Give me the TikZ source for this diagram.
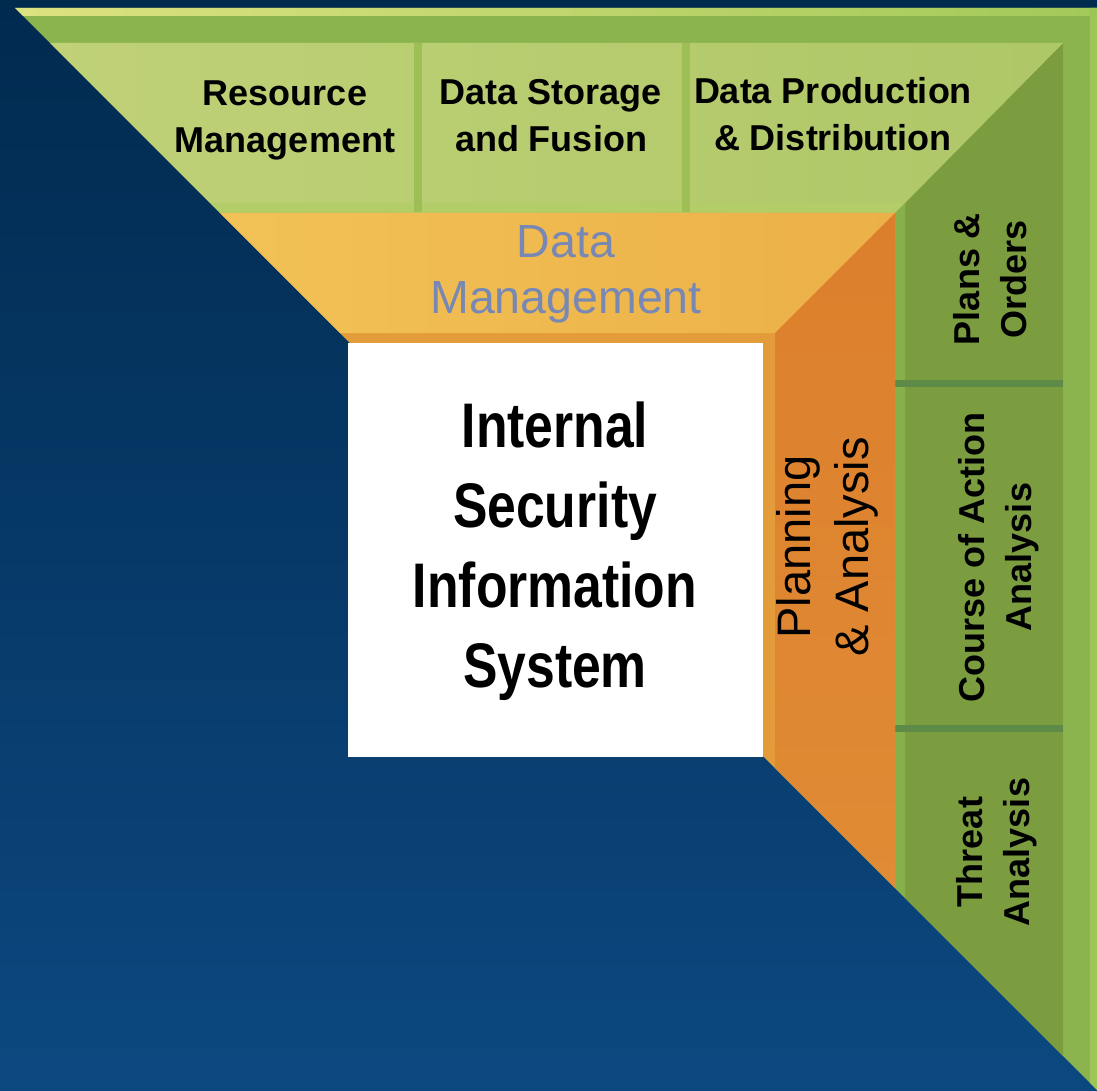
\documentclass[tikz,border=0pt]{standalone}
\usepackage{fontspec}
\setmainfont{Liberation Sans}
\newfontfamily\narrowfont[FakeStretch=0.82]{Liberation Sans}
\definecolor{navyTop}{HTML}{012A4F}
\definecolor{navyBot}{HTML}{0C4880}
\definecolor{frameG}{HTML}{8CB44E}
\definecolor{stripL}{HTML}{DCE280}
\definecolor{stripR}{HTML}{A3C95A}
\definecolor{edgeR}{HTML}{9CC556}
\definecolor{topL}{HTML}{C0D178}
\definecolor{topR}{HTML}{AEC767}
\definecolor{colG}{HTML}{7B9D40}
\definecolor{lipH}{HTML}{B3CD68}
\definecolor{lipV}{HTML}{88B04A}
\definecolor{sepTop}{HTML}{9DBF55}
\definecolor{sepRight}{HTML}{5E8A47}
\definecolor{orTopL}{HTML}{F2C256}
\definecolor{orTopR}{HTML}{ECB048}
\definecolor{orRightT}{HTML}{DC7F2C}
\definecolor{orRightB}{HTML}{E08B35}
\definecolor{orEdge}{HTML}{E49C3A}
\definecolor{dmText}{HTML}{7888B4}
\tikzset{
  lbl/.style={font=\fontsize{36}{47}\selectfont\bfseries, align=center, inner sep=0pt, text=black},
  dm/.style={font=\fontsize{46.5}{56}\selectfont, align=center, inner sep=0pt},
  pa/.style={font=\fontsize{47}{58}\selectfont, align=center, inner sep=0pt, rotate=90},
  iss/.style={font=\narrowfont\bfseries\fontsize{63}{80}\selectfont, align=center, inner sep=0pt},
  whitebox/.style={fill=white, draw=none, minimum width=415pt, minimum height=414pt, inner sep=0pt}
}
\begin{document}
\begin{tikzpicture}[x=1pt,y=-1pt]
\useasboundingbox (0,0) rectangle (1097,1091);
% background
\shade[top color=navyTop, bottom color=navyBot] (0,0) rectangle (1097,1091);
% outer green frame
\fill[frameG] (15,8) -- (1097,8) -- (1097,1090) -- cycle;
\shade[left color=stripL, right color=stripR] (15,8) -- (1097,8) -- (1097,16) -- (23,16) -- cycle;
\fill[edgeR] (1090,8) -- (1097,8) -- (1097,1090) -- (1090,1083) -- cycle;
% right column
\fill[colG] (1063,43) -- (1063,1056) -- (905,898) -- (905,203) -- cycle;
% top trapezoid
\shade[left color=topL, right color=topR] (50,43) -- (1063,43) -- (905,203) -- (210,203) -- cycle;
% lips
\fill[lipH] (210,203) -- (905,203) -- (895,213) -- (220,213) -- cycle;
\fill[lipV] (905,203) -- (905,898) -- (895,888) -- (895,213) -- cycle;
% separators
\fill[sepTop] (414,43) rectangle (422,212);
\fill[sepTop] (682,43) rectangle (690,212);
\fill[sepRight] (895,380) rectangle (1063,387);
\fill[sepRight] (895,725) rectangle (1063,732);
% orange frame
\fill[orEdge] (220,213) -- (895,213) -- (895,888) -- cycle;
\shade[left color=orTopL, right color=orTopR] (220,213) -- (895,213) -- (775,333) -- (340,333) -- cycle;
\shade[top color=orRightT, bottom color=orRightB] (895,213) -- (895,888) -- (775,768) -- (775,333) -- cycle;
% white box with title
\node[whitebox] (box) at (555.5,550) {};
\node[iss, text=black] (iss) at (555,551) {Internal\\Security\\Information\\System};
% top labels
\node[lbl] (rm) at (285,120) {Resource\\Management};
\node[lbl] (dsf) at (551,116) {Data Storage\\and Fusion};
\node[lbl] (dpd) at (833,114) {Data Production\\\& Distribution};
% data management
\node[dm, text=dmText] (dm) at (566,274) {Data\\Management};
% planning & analysis
\node[pa, text=black] (pa) at (827,547) {Planning\\\& Analysis};
% right column labels
\node[lbl, rotate=90] (po) at (990,279) {Plans \&\\Orders};
\node[lbl, rotate=90] (coa) at (999,557) {Course of Action\\Analysis};
\node[lbl, rotate=90] (ta) at (997,852) {Threat\\Analysis};
\end{tikzpicture}
\end{document}
